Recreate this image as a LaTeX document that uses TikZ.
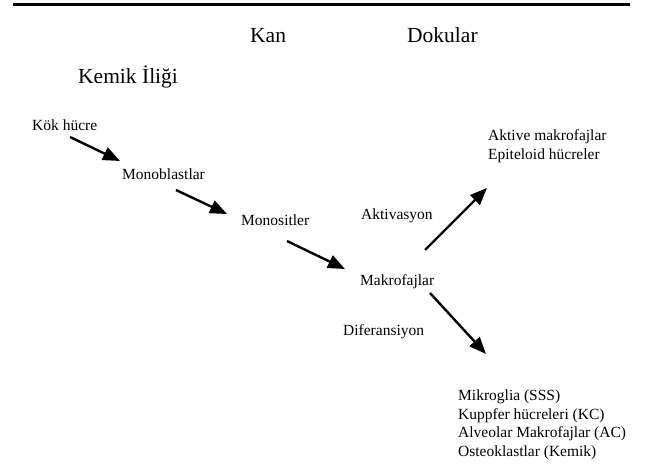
\documentclass[tikz,border=0pt]{standalone}
\usepackage{fontspec}
\setmainfont{Liberation Serif}
\usetikzlibrary{arrows.meta}
\tikzset{
  big/.style={anchor=base west, inner sep=0pt, font=\fontsize{21.5}{24}\selectfont},
  lbl/.style={anchor=base west, inner sep=0pt, font=\fontsize{15.5}{18.4}\selectfont},
  lst/.style={anchor=north west, inner sep=0pt, align=left, font=\fontsize{15.5}{18.4}\selectfont},
  arr/.style={line width=2.4pt, -{Triangle[length=17pt,width=13.5pt]}},
  rule/.style={line width=3pt}
}
\begin{document}
\begin{tikzpicture}[x=1pt,y=-1pt]
\useasboundingbox (0,0) rectangle (650,468);
% top rule
\coordinate (rl) at (13,5);
\coordinate (rr) at (630,5);
\draw[rule] (rl) -- (rr);
% headings
\node[big] (kan) at (250,42.5) {Kan};
\node[big] (dok) at (407,43) {Dokular};
\node[big] (kem) at (78,84) {Kemik İliği};
% labels
\node[lbl] (kok) at (32,131) {Kök hücre};
\node[lbl] (mb) at (122,179) {Monoblastlar};
\node[lbl] (ms) at (241,225) {Monositler};
\node[lbl] (akt) at (361,219) {Aktivasyon};
\node[lbl] (mk) at (360,285) {Makrofajlar};
\node[lbl] (dif) at (343,335) {Diferansiyon};
\node[lbl] (am) at (488,140) {Aktive makrofajlar};
\node[lbl] (ep) at (488,159.5) {Epiteloid hücreler};
\node[lst] (list) at (458,390) {Mikroglia (SSS)\\Kuppfer hücreleri (KC)\\Alveolar Makrofajlar (AC)\\Osteoklastlar (Kemik)};
% arrow ends
\coordinate (a1s) at (70,137);  \coordinate (a1e) at (120,161);
\coordinate (a2s) at (176,190); \coordinate (a2e) at (227,214);
\coordinate (a3s) at (287,241); \coordinate (a3e) at (345,269);
\coordinate (a4s) at (425,250); \coordinate (a4e) at (487,188);
\coordinate (a5s) at (430,293); \coordinate (a5e) at (486,354);
\draw[arr] (a1s) -- (a1e);
\draw[arr] (a2s) -- (a2e);
\draw[arr] (a3s) -- (a3e);
\draw[arr] (a4s) -- (a4e);
\draw[arr] (a5s) -- (a5e);
\end{tikzpicture}
\end{document}
